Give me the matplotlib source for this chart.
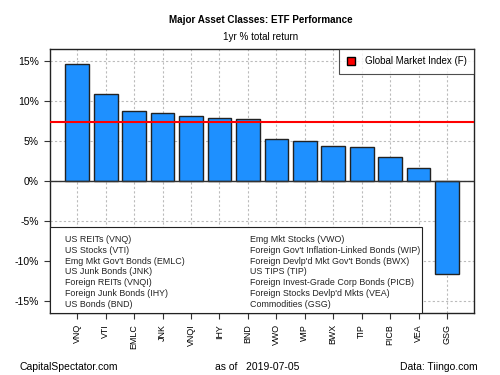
import numpy as np
import matplotlib
matplotlib.use("Agg")
import matplotlib.pyplot as plt

plt.rcParams['font.family'] = ['Liberation Sans', 'DejaVu Sans']

# 1yr total return, %
tickers = ["VNQ", "VTI", "EMLC", "JNK", "VNQI", "IHY", "BND",
           "VWO", "WIP", "BWX", "TIP", "PICB", "VEA", "GSG"]
returns = [14.6, 10.9, 8.8, 8.5, 8.1, 7.9, 7.75,
           5.3, 5.0, 4.4, 4.2, 2.95, 1.6, -11.6]
gmi = 7.4

names_left = ["US REITs (VNQ)", "US Stocks (VTI)", "Emg Mkt Gov't Bonds (EMLC)",
              "US Junk Bonds (JNK)", "Foreign REITs (VNQI)",
              "Foreign Junk Bonds (IHY)", "US Bonds (BND)"]
names_right = ["Emg Mkt Stocks (VWO)", "Foreign Gov't Inflation-Linked Bonds (WIP)",
               "Foreign Devlp'd Mkt Gov't Bonds (BWX)", "US TIPS (TIP)",
               "Foreign Invest-Grade Corp Bonds (PICB)",
               "Foreign Stocks Devlp'd Mkts (VEA)", "Commodities (GSG)"]

fig = plt.figure(figsize=(5, 3.75), dpi=100)
ax = fig.add_axes([0.1, 1 - 313/375, 0.848, 264/375])

x = np.arange(len(tickers))
ax.bar(x, returns, width=0.833, color="#1E90FF", edgecolor="#222222",
       linewidth=1.0, zorder=3)
ax.axhline(0, color="#333333", lw=1, zorder=4)
ax.axhline(gmi, color="red", lw=1.5, zorder=5)

ax.set_xlim(-0.96, 13.95)
ax.set_ylim(-16.5, 16.5)
ax.set_yticks([-15, -10, -5, 0, 5, 10, 15])
ax.set_yticklabels([f"{v}%" for v in [-15, -10, -5, 0, 5, 10, 15]], fontsize=7.5)
ax.set_xticks(x)
ax.set_xticklabels(tickers, rotation=90, fontsize=6.4)
ax.tick_params(axis='both', length=4, color="#333333", pad=4)
ax.grid(True, color="#bbbbbb", linestyle=(0, (2, 2)), lw=0.8, zorder=0)
for s in ax.spines.values():
    s.set_color("#222222")
    s.set_linewidth(1.0)

# legend for the GMI line
leg = ax.legend([plt.Line2D([], [], marker='s', color='none', markerfacecolor='red',
                            markeredgecolor='black', markersize=5.5)],
                ["Global Market Index (F)"], loc="upper right", fontsize=7,
                frameon=True, fancybox=False, borderaxespad=0, handlelength=1.0,
                handletextpad=0.9, borderpad=0.75)
leg.get_frame().set_edgecolor("#222222")
leg.get_frame().set_linewidth(0.8)
leg.set_zorder(6)

# ticker names box
x0 = 50 / 500
box = plt.Rectangle((x0, 1 - 313/375), (422 - 50)/500, (313 - 227)/375,
                    transform=fig.transFigure, facecolor="white",
                    edgecolor="#222222", lw=0.8, zorder=7)
fig.add_artist(box)
for i, (a, b) in enumerate(zip(names_left, names_right)):
    yy = 1 - (239.5 + 10.8*i) / 375
    fig.text(65/500, yy, a, fontsize=6.4, va="center", color="#222222", zorder=8)
    fig.text(250/500, yy, b, fontsize=6.4, va="center", color="#222222", zorder=8)

fig.text(0.522, 1 - 20/375, "Major Asset Classes: ETF Performance",
         ha="center", va="center", fontsize=7.1, fontweight="bold")
fig.text(0.522, 1 - 37/375, "1yr % total return", ha="center", va="center", fontsize=7.1)
fig.text(20/500, 1 - 367/375, "CapitalSpectator.com", va="center", fontsize=7.5)
fig.text(215/500, 1 - 367/375, "as of   2019-07-05", va="center", fontsize=7.5)
fig.text(478/500, 1 - 367/375, "Data: Tiingo.com", ha="right", va="center", fontsize=7.5)

fig.savefig("out.png", dpi=100)
